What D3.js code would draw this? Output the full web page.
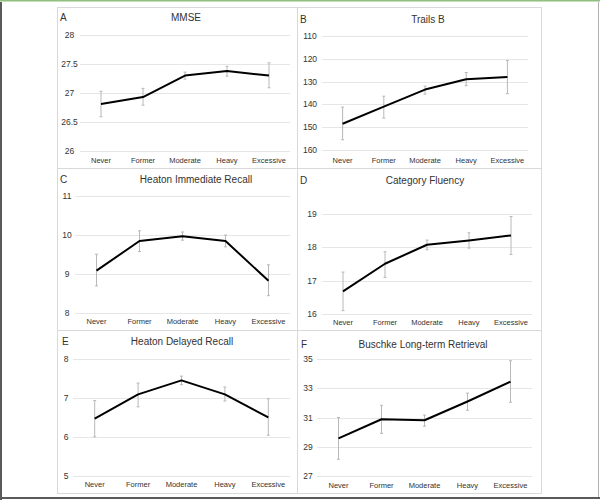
<!DOCTYPE html>
<html><head><meta charset="utf-8">
<script src="https://cdn.jsdelivr.net/npm/d3@7"></script>
<style>
html,body{margin:0;padding:0;background:#fff;}
svg{display:block;}
text{font-family:"Liberation Sans",Arial,sans-serif;fill:#333;}
</style></head>
<body>
<svg id="chart" width="600" height="500"></svg>
<script>
const categories = ["Never","Former","Moderate","Heavy","Excessive"];
const panelLetters = ["A","B","C","D","E","F"];
const panelTitles = ["MMSE","Trails B","Heaton Immediate Recall","Category Fluency","Heaton Delayed Recall","Buschke Long-term Retrieval"];

const mmseMean  = [26.81, 26.93, 27.30, 27.38, 27.30];
const mmseLow   = [26.59, 26.79, 27.24, 27.29, 27.09];
const mmseHigh  = [27.03, 27.08, 27.36, 27.46, 27.52];
const mmseTicks = [26, 26.5, 27, 27.5, 28];

const trailsMean  = [148.5, 141.0, 133.5, 129.0, 128.0];
const trailsLow   = [155.5, 146.0, 135.5, 131.8, 135.3];
const trailsHigh  = [141.2, 136.4, 132.0, 126.0, 120.8];
const trailsTicks = [110, 120, 130, 140, 150, 160];

const immMean  = [9.09, 9.85, 9.97, 9.85, 8.83];
const immLow   = [8.70, 9.58, 9.87, 9.70, 8.45];
const immHigh  = [9.51, 10.11, 10.08, 10.00, 9.24];
const immTicks = [8, 9, 10, 11];

const fluMean  = [16.68, 17.51, 18.08, 18.21, 18.36];
const fluLow   = [16.10, 17.10, 17.93, 17.98, 17.79];
const fluHigh  = [17.26, 17.87, 18.22, 18.44, 18.93];
const fluTicks = [16, 17, 18, 19];

const delMean  = [6.47, 7.09, 7.45, 7.09, 6.50];
const delLow   = [6.00, 6.77, 7.34, 6.92, 6.04];
const delHigh  = [6.93, 7.38, 7.56, 7.28, 6.98];
const delTicks = [5, 6, 7, 8];

const busMean  = [29.57, 30.88, 30.81, 32.10, 33.46];
const busLow   = [28.13, 29.91, 30.40, 31.50, 32.05];
const busHigh  = [31.00, 31.84, 31.17, 32.67, 34.90];
const busTicks = [27, 29, 31, 33, 35];

// layout (geometry only)
const layout = [
  {box:[57,7,240,161],   xr:[80,290],  yd:[26,28],    yr:[151,35],   lx:69.5, ly:160, tx:186, ty:17,  lt:[60,17]},
  {box:[297,7,244,161],  xr:[322,528], yd:[160,110],  yr:[150,36],   lx:310,  ly:160, tx:428, ty:19,  lt:[300,19]},
  {box:[57,168,240,162], xr:[75,290],  yd:[8,11],     yr:[313.3,196],lx:67,   ly:321, tx:196, ty:179, lt:[60,179]},
  {box:[297,168,244,162],xr:[322,532], yd:[16,19.5],  yr:[314,197.5],lx:312,  ly:322, tx:425, ty:180, lt:[300,180]},
  {box:[57,330,240,163], xr:[73,290],  yd:[5,8],      yr:[475.7,359],lx:66,   ly:484, tx:182, ty:341, lt:[62,341]},
  {box:[297,330,244,163],xr:[317,532], yd:[27,35],    yr:[475.7,359.3],lx:308,ly:485, tx:423, ty:344, lt:[301,344]}
];
const data = [
  [mmseMean, mmseLow, mmseHigh, mmseTicks],
  [trailsMean, trailsLow, trailsHigh, trailsTicks],
  [immMean, immLow, immHigh, immTicks],
  [fluMean, fluLow, fluHigh, fluTicks],
  [delMean, delLow, delHigh, delTicks],
  [busMean, busLow, busHigh, busTicks]
];

const svg = d3.select("#chart");
svg.append("rect").attr("width",600).attr("height",500).attr("fill","#fff");

layout.forEach((L,i) => {
  const [mean, low, high, ticks] = data[i];
  const g = svg.append("g");
  g.append("rect").attr("x",L.box[0]+0.5).attr("y",L.box[1]+0.5)
    .attr("width",L.box[2]).attr("height",L.box[3])
    .attr("fill","#fff").attr("stroke","#d9d9d9").attr("stroke-width",1);

  const x = d3.scaleBand().domain(categories).range(L.xr).padding(0);
  const y = d3.scaleLinear().domain(L.yd).range(L.yr);
  const cx = c => x(c) + x.bandwidth()/2;

  // gridlines
  g.selectAll(".grid").data(ticks).join("line")
    .attr("x1",L.xr[0]).attr("x2",L.xr[1])
    .attr("y1",d=>Math.round(y(d))+0.5).attr("y2",d=>Math.round(y(d))+0.5)
    .attr("stroke","#e6e6e6").attr("stroke-width",1);

  // y tick labels
  g.selectAll(".ylab").data(ticks).join("text")
    .attr("x",L.lx).attr("y",d=>y(d)+3)
    .attr("text-anchor","middle").attr("font-size",8.5)
    .text(d=>d);

  // x labels
  g.selectAll(".xlab").data(categories).join("text")
    .attr("x",d=>cx(d)).attr("y",L.ly+3)
    .attr("text-anchor","middle").attr("font-size",7.5)
    .text(d=>d);

  // error bars
  const eb = g.selectAll(".eb").data(categories).join("g");
  eb.append("line").attr("x1",d=>cx(d)).attr("x2",d=>cx(d))
    .attr("y1",(d,j)=>y(low[j])).attr("y2",(d,j)=>y(high[j]))
    .attr("stroke","#b8b8b8").attr("stroke-width",1);
  eb.append("line").attr("x1",d=>cx(d)-1.5).attr("x2",d=>cx(d)+1.5)
    .attr("y1",(d,j)=>y(low[j])).attr("y2",(d,j)=>y(low[j]))
    .attr("stroke","#b8b8b8").attr("stroke-width",1);
  eb.append("line").attr("x1",d=>cx(d)-1.5).attr("x2",d=>cx(d)+1.5)
    .attr("y1",(d,j)=>y(high[j])).attr("y2",(d,j)=>y(high[j]))
    .attr("stroke","#b8b8b8").attr("stroke-width",1);

  // line
  const line = d3.line().x((d,j)=>cx(categories[j])).y(d=>y(d));
  g.append("path").datum(mean).attr("d",line)
    .attr("fill","none").attr("stroke","#000").attr("stroke-width",2)
    .attr("stroke-linejoin","round");

  // title and letter
  g.append("text").attr("x",L.tx).attr("y",L.ty+3.5).attr("text-anchor","middle")
    .attr("font-size",10).text(panelTitles[i]);
  g.append("text").attr("x",L.lt[0]).attr("y",L.lt[1]+3.5).attr("text-anchor","start")
    .attr("font-size",10).text(panelLetters[i]);
});

// outer frame
svg.append("line").attr("x1",0).attr("x2",600).attr("y1",0.75).attr("y2",0.75).attr("stroke","#8fc07f").attr("stroke-width",1.5);
svg.append("line").attr("x1",1).attr("x2",1).attr("y1",2).attr("y2",500).attr("stroke","#5a5a5a").attr("stroke-width",2);
svg.append("line").attr("x1",0).attr("x2",600).attr("y1",498).attr("y2",498).attr("stroke","#5a5a5a").attr("stroke-width",2);
svg.append("line").attr("x1",598.5).attr("x2",598.5).attr("y1",2).attr("y2",497).attr("stroke","#b0b0b0").attr("stroke-width",1);
</script>
</body></html>
